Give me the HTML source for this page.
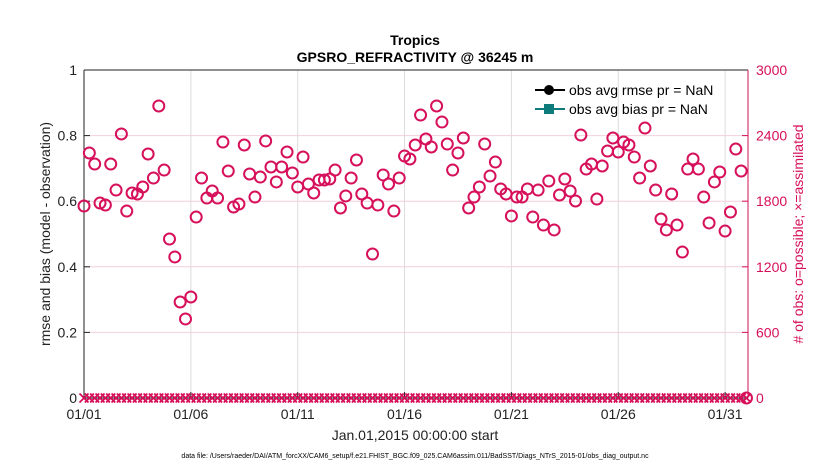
<!DOCTYPE html>
<html><head><meta charset="utf-8"><style>
body{margin:0;background:#fff;font-family:"Liberation Sans",Arial,sans-serif}
svg text{font-family:"Liberation Sans",Arial,sans-serif}
</style></head><body>
<svg id="chart" width="830" height="470" viewBox="0 0 830 470" xmlns="http://www.w3.org/2000/svg">
<rect width="830" height="470" fill="#fff"/>
<text x="415" y="45" text-anchor="middle" font-size="14" font-weight="bold" fill="#000">Tropics</text>
<text x="415" y="62" text-anchor="middle" font-size="14" font-weight="bold" fill="#000">GPSRO_REFRACTIVITY @ 36245 m</text>
<g id="grid"></g>
<g id="axes"></g>
<g id="marks"></g>
<g>
<line x1="535" y1="90" x2="565" y2="90" stroke="#000" stroke-width="2"/>
<circle cx="549" cy="90" r="5" fill="#000"/>
<text x="569" y="95" font-size="14" fill="#000">obs avg rmse pr = NaN</text>
<line x1="535" y1="109" x2="565" y2="109" stroke="#0e7c7b" stroke-width="2"/>
<rect x="544" y="104" width="10" height="10" fill="#0e7c7b"/>
<text x="569" y="114" font-size="14" fill="#000">obs avg bias pr = NaN</text>
</g>
<text x="415" y="440" text-anchor="middle" font-size="14" fill="#222">Jan.01,2015 00:00:00 start</text>
<text transform="translate(50,234) rotate(-90)" text-anchor="middle" font-size="14" fill="#222">rmse and bias (model - observation)</text>
<text transform="translate(803,234) rotate(-90)" text-anchor="middle" font-size="14" fill="#d6105a"># of obs: o=possible; ×=assimilated</text>
<text x="415" y="458" text-anchor="middle" font-size="7" fill="#000">data file: /Users/raeder/DAI/ATM_forcXX/CAM6_setup/f.e21.FHIST_BGC.f09_025.CAM6assim.011/BadSST/Diags_NTrS_2015-01/obs_diag_output.nc</text>
</svg>
<script>
const possibleCounts=[1756,2241,2140,1783,1765,2140,1902,2415,1710,1875,1866,1930,2232,2012,2671,2085,1454,1290,878,723,924,1655,2012,1829,1893,1829,2341,2076,1747,1774,2314,2049,1838,2021,2351,2113,1976,2113,2250,2058,1930,2204,1957,1875,1994,1994,2003,2085,1738,1848,2012,2177,1866,1783,1317,1765,2040,1957,1710,2012,2213,2186,2314,2588,2369,2296,2671,2524,2323,2085,2241,2378,1738,1838,1930,2323,2030,2158,1912,1866,1665,1838,1838,1912,1655,1902,1582,1985,1537,1857,2003,1893,1802,2405,2094,2140,1820,2122,2259,2378,2250,2341,2314,2204,2012,2469,2122,1902,1637,1537,1866,1582,1335,2094,2186,2094,1838,1601,1976,2067,1527,1701,2277,2076,0];
const assimilatedCounts=possibleCounts.map(()=>0);
const obsPerDay=4;
const xTickLabels=["01/01","01/06","01/11","01/16","01/21","01/26","01/31"];
const xTickDays=[0,5,10,15,20,25,30];
const leftTickLabels=["0","0.2","0.4","0.6","0.8","1"];
const leftTickValues=[0,0.2,0.4,0.6,0.8,1];
const rightTickLabels=["0","600","1200","1800","2400","3000"];
const rightTickValues=[0,600,1200,1800,2400,3000];

const X0=84,X1=748,Y0=398,Y1=70,PXDAY=21.37,MAG="#d6105a";
const NS="http://www.w3.org/2000/svg";
const xs=d=>X0+d*PXDAY;
const yl=v=>Y0-(v/1)*(Y0-Y1);
const yr=v=>Y0-(v/3000)*(Y0-Y1);
function mk(tag,attrs,parent,text){const e=document.createElementNS(NS,tag);for(const k in attrs)e.setAttribute(k,attrs[k]);if(text!==undefined)e.textContent=text;parent.appendChild(e);return e;}
const gridG=document.getElementById('grid'),axesG=document.getElementById('axes'),marksG=document.getElementById('marks');
xTickDays.forEach((d,i)=>{
  const g=mk('line',{x1:xs(d),x2:xs(d),y1:Y1,y2:Y0,stroke:"#dcdcdc","stroke-width":1},gridG);
  
  
  const t=mk('line',{x1:xs(d),x2:xs(d),y1:Y0,y2:Y0-6,stroke:"#222"},axesG);
  
  
  const l=mk('text',{x:xs(d),y:Y0+21,"text-anchor":"middle","font-size":"14",fill:"#222"},axesG,xTickLabels[i]);
  
  
});
rightTickValues.forEach((v,i)=>{
  if(v>0&&v<3000){const g=mk('line',{x1:X0,x2:X1,y1:yr(v),y2:yr(v),stroke:"#f2cfdc","stroke-width":1},gridG);
  
  }
  const t=mk('line',{x1:X1,x2:X1-6,y1:yr(v),y2:yr(v),stroke:MAG},axesG);
  
  
  const l=mk('text',{x:X1+8,y:yr(v)+5,"font-size":"14",fill:MAG},axesG,rightTickLabels[i]);
  
  
});
leftTickValues.forEach((v,i)=>{
  const t=mk('line',{x1:X0,x2:X0+6,y1:yl(v),y2:yl(v),stroke:"#222"},axesG);
  
  
  const l=mk('text',{x:X0-7,y:yl(v)+5,"text-anchor":"end","font-size":"14",fill:"#222"},axesG,leftTickLabels[i]);
  
  
});
const topAxis=mk('line',{x1:X0,x2:X1,y1:Y1,y2:Y1,stroke:"#222"},axesG);


const leftAxis=mk('line',{x1:X0,x2:X0,y1:Y1,y2:Y0,stroke:"#222"},axesG);


const bottomAxis=mk('line',{x1:X0,x2:X1,y1:Y0,y2:Y0,stroke:"#222"},axesG);


const rightAxis=mk('line',{x1:X1,x2:X1,y1:Y1,y2:Y0,stroke:MAG},axesG);


assimilatedCounts.forEach((v,i)=>{
  const x=xs(i/obsPerDay),y=yr(v),s=4.5;
  const p=mk('path',{d:`M${x-s},${y-s}L${x+s},${y+s}M${x-s},${y+s}L${x+s},${y-s}`,stroke:MAG,"stroke-width":1.8,fill:"none"},marksG);
  
  
});
possibleCounts.forEach((v,i)=>{
  const c=mk('circle',{cx:xs(i/obsPerDay),cy:yr(v),r:5.5,stroke:MAG,"stroke-width":2,fill:"none"},marksG);
  
  
});
</script>
</body></html>
